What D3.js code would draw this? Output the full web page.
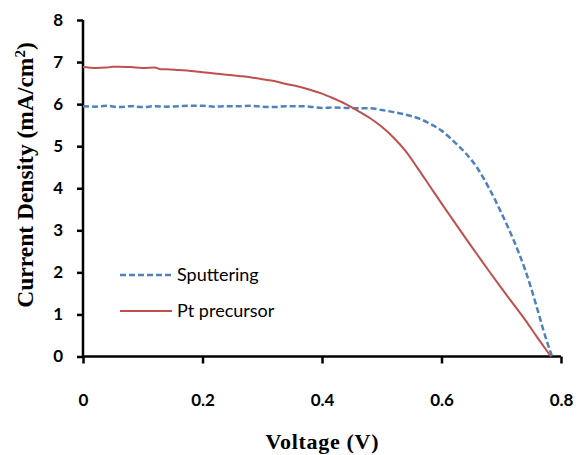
<!DOCTYPE html>
<html>
<head>
<meta charset="utf-8">
<script src="https://cdn.jsdelivr.net/npm/d3@7"></script>
<style>
  html, body { margin: 0; padding: 0; background: #fff; }
  svg { display: block; }
</style>
</head>
<body>
<svg id="chart" width="584" height="455"></svg>
<script>
  // Sputtering (blue, dashed)
  const sputterV = [0, 0.02, 0.04, 0.06, 0.08, 0.10, 0.12, 0.14, 0.16, 0.18, 0.20, 0.22, 0.24, 0.26, 0.28, 0.30,
    0.32, 0.34, 0.36, 0.38, 0.40, 0.42, 0.44, 0.46, 0.48, 0.50, 0.52, 0.54, 0.56, 0.58, 0.60, 0.62, 0.64, 0.66,
    0.68, 0.70, 0.72, 0.74, 0.76, 0.77, 0.785];
  const sputterJ = [5.95, 5.94, 5.96, 5.93, 5.95, 5.93, 5.95, 5.94, 5.95, 5.96, 5.96, 5.94, 5.95, 5.95, 5.96, 5.94,
    5.93, 5.95, 5.95, 5.94, 5.91, 5.92, 5.91, 5.90, 5.90, 5.86, 5.81, 5.75, 5.67, 5.54, 5.37, 5.12, 4.84, 4.48,
    3.99, 3.42, 2.79, 2.06, 1.15, 0.65, 0];

  // Pt precursor (red, solid)
  const ptV = [0, 0.02, 0.04, 0.05, 0.06, 0.08, 0.10, 0.12, 0.13, 0.14, 0.16, 0.18, 0.20, 0.22, 0.24, 0.26, 0.28,
    0.30, 0.32, 0.34, 0.36, 0.38, 0.40, 0.42, 0.44, 0.46, 0.48, 0.50, 0.52, 0.54, 0.56, 0.58, 0.60, 0.62, 0.64,
    0.66, 0.68, 0.70, 0.72, 0.74, 0.76, 0.783];
  const ptJ = [6.88, 6.86, 6.87, 6.89, 6.89, 6.88, 6.86, 6.87, 6.83, 6.83, 6.81, 6.79, 6.76, 6.73, 6.70, 6.67, 6.64,
    6.59, 6.55, 6.48, 6.42, 6.34, 6.25, 6.13, 6.00, 5.84, 5.67, 5.46, 5.20, 4.88, 4.48, 4.06, 3.64, 3.23, 2.82,
    2.42, 2.02, 1.63, 1.25, 0.87, 0.46, 0];

  const xTicks = [0, 0.2, 0.4, 0.6, 0.8];
  const yTicks = [0, 1, 2, 3, 4, 5, 6, 7, 8];

  const series = [
    { name: 'Sputtering', v: sputterV, j: sputterJ, color: '#4F81BD', dash: '6,3', width: 2.5 },
    { name: 'Pt precursor', v: ptV, j: ptJ, color: '#C0504D', dash: null, width: 2 }
  ];

  const svg = d3.select('#chart');
  const x = d3.scaleLinear().domain([0, 0.8]).range([83, 561]);
  const y = d3.scaleLinear().domain([0, 8]).range([356.5, 20]);
  const labelFont = 'Lato, "Open Sans", sans-serif';
  const titleFont = '"Liberation Serif", "Times New Roman", serif';

  // axes
  const xAxis = svg.append('g').attr('transform', 'translate(0,' + y(0) + ')')
    .call(d3.axisBottom(x).tickValues(xTicks).tickSize(7).tickPadding(30)
      .tickFormat(function (d) { return d === 0 ? '0' : d3.format('.1f')(d); }));
  const yAxis = svg.append('g').attr('transform', 'translate(' + x(0) + ',0)')
    .call(d3.axisLeft(y).tickValues(yTicks).tickSize(6).tickPadding(14).tickFormat(d3.format('d')));

  [xAxis, yAxis].forEach(function (g) {
    g.select('.domain').attr('stroke', '#000').attr('stroke-width', 2.5);
    g.selectAll('.tick line').attr('stroke', '#000').attr('stroke-width', 2.5);
    g.selectAll('.tick text')
      .attr('fill', '#000')
      .style('font-family', labelFont)
      .style('font-weight', 'bold')
      .style('font-size', '17px');
  });
  xAxis.select('.domain').attr('d', 'M' + x(0) + ',0H' + x(0.8));
  yAxis.select('.domain').attr('d', 'M0,' + y(8) + 'V' + y(0));

  // lines
  const line = d3.line()
    .x(function (d) { return x(d[0]); })
    .y(function (d) { return y(d[1]); })
    .curve(d3.curveMonotoneX);

  series.forEach(function (s) {
    const pts = s.v.map(function (v, i) { return [v, s.j[i]]; });
    svg.append('path')
      .datum(pts)
      .attr('fill', 'none')
      .attr('stroke', s.color)
      .attr('stroke-width', s.width)
      .attr('stroke-dasharray', s.dash)
      .attr('d', line);
  });

  // legend
  const legendY = [275, 311];
  series.forEach(function (s, i) {
    svg.append('line')
      .attr('x1', 120).attr('x2', 172)
      .attr('y1', legendY[i]).attr('y2', legendY[i])
      .attr('stroke', s.color)
      .attr('stroke-width', s.width)
      .attr('stroke-dasharray', s.dash);
    svg.append('text')
      .attr('x', 177).attr('y', legendY[i] + 6)
      .style('font-family', labelFont)
      .style('font-size', '18px')
      .attr('fill', '#000')
      .text(s.name);
  });

  // axis titles
  svg.append('text')
    .attr('x', 322).attr('y', 449)
    .attr('text-anchor', 'middle')
    .style('font-family', titleFont)
    .style('font-weight', 'bold')
    .style('font-size', '22px')
    .attr('textLength', 113)
    .text('Voltage (V)');

  const yTitle = svg.append('text')
    .attr('transform', 'translate(33,175) rotate(-90)')
    .attr('text-anchor', 'middle')
    .style('font-family', titleFont)
    .style('font-weight', 'bold')
    .style('font-size', '23.5px');
  yTitle.append('tspan').text('Current Density (mA/cm');
  yTitle.append('tspan').attr('dy', -8).style('font-size', '15px').text('2');
  yTitle.append('tspan').attr('dy', 8).text(')');
</script>
</body>
</html>
